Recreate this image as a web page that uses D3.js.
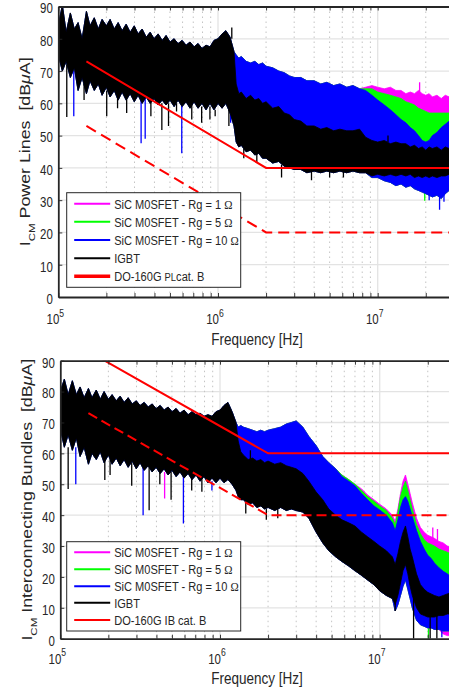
<!DOCTYPE html>
<html>
<head>
<meta charset="utf-8">
<script src="https://cdn.jsdelivr.net/npm/d3@7"></script>
<style>
body { margin: 0; background: #fff; }
svg { display: block; }
text { font-family: "Liberation Sans", Arial, sans-serif; fill: #262626; }
</style>
</head>
<body>
<svg id="chart" width="449" height="689"></svg>
<script>
// ---------- data (dBuA) ----------

// below ~1.3 MHz all four traces lie on top of each other
var freqLow = [1e5,1.06e5,1.12e5,1.19e5,1.26e5,1.33e5,1.41e5,1.5e5,1.58e5,1.68e5,
  1.78e5,1.88e5,2e5,2.11e5,2.24e5,2.37e5,2.51e5,2.66e5,2.82e5,2.99e5,
  3.16e5,3.35e5,3.55e5,3.76e5,3.98e5,4.22e5,4.47e5,4.73e5,5.01e5,5.31e5,
  5.62e5,5.96e5,6.31e5,6.68e5,7.08e5,7.5e5,7.94e5,8.41e5,8.91e5,9.44e5,
  1e6,1.06e6,1.12e6,1.19e6,1.26e6];

// power lines panel
var plLowHi = [84,90.5,82,88,83,85,80,88.5,84,86.5, 83,86,84,86,83,85,82.5,84.5,82,84,
  81.5,83,80.5,82,80,81.5,79.5,81,79,80, 78.5,79.5,78,79,77.5,78.5,77,78,77.5,79.5,
  80,81.5,82.5,80.5,76];
var plLowLo = [75,70,73,68,71,64,68,63,67,64, 66,62.5,65,62,64,61,63.5,61,63,60.5,
  62.5,60,62,60,61.5,59.5,61,59.5,61,59, 61,59,60.5,58.5,60.5,58.5,60,58,60,58,
  60,58.5,60,57,53];

var freqPLHigh = [1.3e6,1.35e6,1.4e6,1.5e6,1.6e6,1.7e6,1.8e6,1.9e6,2e6,2.2e6,
  2.4e6,2.6e6,2.8e6,3e6,3.3e6,3.6e6,4e6,4.4e6,4.8e6,5.3e6,
  5.8e6,6.4e6,7e6,7.7e6,8.4e6,9.2e6,1e7,1.1e7,1.2e7,1.3e7,
  1.4e7,1.5e7,1.6e7,1.7e7,1.8e7,1.9e7,2e7,2.1e7,2.2e7,2.35e7,
  2.5e7,2.65e7,2.8e7,3e7];
var plIgbtHi = [66,63,63.5,61.5,62.5,61,61.5,60,60.5,58.5, 59,57,56.5,55,54.5,53,53,52,52.5,51.5,
  52,51.5,51.5,52,49.5,48.5,48,48.5,47.5,48, 47.5,47.5,46.5,47,46,46.5,45.5,46.5,46,46.5,
  45.5,46.5,46,46];
var plIgbtLo = [48,46.5,47,45,45.5,44,44.5,43,43,41.5, 42,40.5,40,39.5,39.5,38.5,39,38.5,39,38.5,
  39,38.5,39,38.5,38.5,37.5,38,37.5,38,37.5, 38,37.5,38,37,37.5,37,37.5,37,37.5,37,
  37.5,37.5,38,38];
var plRg10Hi = [75,74,74.5,73,72.5,73,72,72.5,71.5,71, 70,69.5,68.5,68,68,67,67,66,66.5,65.5,
  66,65,65.5,64.5,64,62.5,61,59.5,58,56.5, 55,54,52.5,51.5,50,48.5,48,48.5,50,51,
  52.5,53.5,54.5,55.5];
var plRg10Lo = [48,46.5,47,45,45.5,44,44.5,43,43,41.5, 42,40.5,40,39.5,39.5,38.5,39,38.5,39,38.5,
  39,38.5,39,38.5,38.5,37,37,36,35.5,34.5, 35,34,34.5,33.5,33,32.5,32,31.5,31,31.5,
  30.5,32,33,33];
var plRg5Hi = [75,74,74.5,73,72.5,73,72,72.5,71.5,71, 70,69.5,68.5,68,68,67,67,66,66.5,65.5,
  66,65,65.5,64.5,64.5,64.5,63.5,63,62.5,62, 61.5,60.5,60,59.5,58.5,58,57.5,57,57,57,
  57,57,57,57];
var plRg1Hi = [75,74,74.5,73,72.5,73,72,72.5,71.5,71, 70,69.5,68.5,68,68,67,67,66,66.5,65.5,
  66,65,65.5,64.5,65,65.5,65,64.5,65,64, 64,63,63.5,63,64,63,62.5,63,62,62.5,
  61.5,62.5,62,62];

// isolated peaks / dips: [freq, from, to]
var plIgbtSpikes = [[1.13e5,72,55.8],[1.45e5,66,61],[2.01e5,64,56],[2.35e5,62,58.5],[2.68e5,62,57],
  [3.8e5,61,56],[4.45e5,60,51.7],[4.9e5,60,53],[5.5e5,60,57.5],[6.85e5,60,55],[7.9e5,59,54],
  [8.9e5,59,55],[9.6e5,58,56],[1.17e6,58,53],[1.22e6,80,83.5],[1.45e6,46,43],[1.75e6,44.5,41.5],
  [2.5e6,41,37],[3.85e6,39,36.2],[5e6,39,37],[6.1e6,39,37],[1.16e7,48,50]];
var plRg10Spikes = [[1.25e5,70,56],[3.3e5,62,47.6],[3.5e5,62,49],[5.93e5,60,44.5],[1.2e6,58,54],
  [2.1e7,34,30],[2.44e7,33,27],[2.6e7,34,29.5]];
var plRg5Spikes = [[1.97e7,34,29.8]];
var plRg1Spikes = [[1.83e7,63,66.5]];

var plLimitFreq = [1.5e5, 2e6, 3e7];
var plLimitSolid = [73, 40, 40];
var plLimitDashed = [53, 20, 20];

// interconnecting bundles panel
var ibLowHi = [80,84,79,83.5,79,81.5,78,81,78,80.5, 77.5,80,77.5,79,77,78.5,76.5,78,76,77,
  75.5,76.5,75,76,74.5,75.5,74,75,73.5,74.5, 73,74,72.5,73.5,72.5,73,72,72.5,72,73.5,
  74,75.5,76.5,73.5,70];
var ibLowLo = [68,62,66,61,65,59,62,56.5,60,58, 60.5,57,59.5,56.5,58.5,56,58,55.5,57.5,55,
  57,54.5,56,54,55.5,53.5,55,53,54.5,52.5, 54,52,53.5,51.5,53,51,52.5,50.5,52,50.5,
  52,50.5,51.5,50,48];

var freqIBHigh = [1.3e6,1.35e6,1.4e6,1.5e6,1.6e6,1.7e6,1.8e6,1.9e6,2e6,2.2e6,
  2.4e6,2.6e6,2.8e6,3e6,3.3e6,3.6e6,4e6,4.4e6,4.8e6,5.3e6,
  5.8e6,6.4e6,7e6,7.7e6,8.4e6,9.2e6,1e7,1.1e7,1.2e7,1.25e7,
  1.3e7,1.35e7,1.4e7,1.45e7,1.5e7,1.55e7,1.6e7,1.7e7,1.8e7,1.9e7,
  2e7,2.1e7,2.2e7,2.35e7,2.5e7,2.65e7,2.8e7,3e7];
var ibIgbtHi = [64,60.5,59.5,58,58.5,57.5,58,57,57.5,56.5, 57,56,55.5,55,53.5,51,47.5,45,42,40,
  38.5,37.5,36.5,34.5,33,31.5,30,28.5,26.5,24, 27.5,31.5,34.5,36.5,33,29,26.5,21,17.5,16,
  15,14.5,14,13.5,14,14.5,15,15];
var ibIgbtLo = [46,45,45,43.5,44,42.5,43,42,42.5,41.5, 42.5,41.5,42,41.5,41,39,34.5,31,28.5,26.5,
  25,23.5,22,20.5,19,17.5,15.5,14,13,11, 14,18,22,24,21,17,14,10,8,7.5,
  7,7,7,7.5,7.5,8,8,8];
var ibRg10Hi = [68.5,69,68.5,68,67.5,67,67.5,67,67.5,68, 68.5,69.5,70,70.5,68.5,65.5,62.5,59,57,55,
  52.5,51,49.5,47,45,43,41.7,40,37.5,35, 38.5,42.5,45,46,44.5,42,39.5,35,31.5,29,
  27,26,24.5,23,21.8,21,20,19.5];
var ibRg10Lo = [46,45,45,43.5,44,42.5,43,42,42.5,41.5, 42.5,41.5,42,41.5,41,39,34.5,31,28.5,26.5,
  25,23.5,22,20.5,19,17.5,15.5,14,13,9, 11,14,17,19,16,13,10,6,4.5,4,
  3.5,3.5,3,3,2.5,2.5,2.5,2.5];
var ibRg5Hi = [68.5,69,68.5,68,67.5,67,67.5,67,67.5,68, 68.5,69.5,70,70.5,68.5,65.5,62.5,59,57,55,
  53,51.5,50,48,46,44.5,43,41.5,39,37, 41,46,49,51,48,45,42,37,34,32,
  31,30.5,30,29,28.5,28,27.5,27];
var ibRg1Hi = [68.5,69,68.5,68,67.5,67,67.5,67,67.5,68, 68.5,69.5,70,70.5,68.5,65.5,62.5,59,57,55,
  53,51.5,50,48.5,46.5,45,43.5,42,40,38, 42,47,51,53,50,47,44,39,36,34.5,
  33.5,33,32.5,31.5,31,30,29.5,29];
var ibRg1Lo = [46,45,45,43.5,44,42.5,43,42,42.5,41.5, 42.5,41.5,42,41.5,41,39,34.5,31,28.5,26.5,
  25,23.5,22,20.5,19,17.5,15.5,14,13,9, 11,14,17,19,16,13,10,6,4.5,4,
  3.5,3.5,3,3,1.5,1,1,1];

var ibIgbtSpikes = [[1.12e5,62,48.5],[1.9e5,58,51.4],[2.05e5,58,53],[2.8e5,57,49.5],[3.6e5,56,41.6],
  [4.2e5,55,50],[4.94e5,54,45],[6.65e5,53,48],[7.7e5,52,47.6],[1.45e6,44,40.5],[1.55e6,57,61],
  [1.95e6,42,38.5],[2.3e6,42,39],[1.25e7,12,9],[1.63e7,15,0],[2.07e7,8,0],[2.28e7,8,0]];
var ibRg10Spikes = [[1.25e5,62,50],[3.3e5,56,40],[5.9e5,53,37.3],[8.9e5,51,48],[2.45e7,3,0.5]];
var ibRg5Spikes = [[2.02e7,4,0]];
var ibRg1Spikes = [[4.5e5,54,45.4],[2.15e7,32,36],[2.3e7,31,35.5]];

var ibLimitFreq = [1.5e5, 2e6, 3e7];
var ibLimitSolid = [93, 60, 60];
var ibLimitDashed = [73, 40, 40];

var yTicks = d3.range(0, 91, 10);
var decades = [1e5, 1e6, 1e7];
var legendNames = ['SiC M0SFET - Rg = 1 ', 'SiC M0SFET - Rg = 5 ', 'SiC M0SFET - Rg = 10 ', 'IGBT'];

// ---------- drawing ----------
var W = 449;
var SQ = 0.82;   // the figure is squeezed horizontally
var colors = {rg1: '#ff00ff', rg5: '#00ff00', rg10: '#0000ff', igbt: '#000000', limit: '#ff0000'};
var svg = d3.select('#chart');

var panels = [
  {id: 'pl', left: 58.3, top: 6.5, bottom: 297, freq: freqLow.concat(freqPLHigh),
   series: [
     {key: 'rg1', hi: plLowHi.concat(plRg1Hi), lo: plLowLo.concat(plRg10Lo), spikes: plRg1Spikes},
     {key: 'rg5', hi: plLowHi.concat(plRg5Hi), lo: plLowLo.concat(plRg10Lo), spikes: plRg5Spikes},
     {key: 'rg10', hi: plLowHi.concat(plRg10Hi), lo: plLowLo.concat(plRg10Lo), spikes: plRg10Spikes},
     {key: 'igbt', hi: plLowHi.concat(plIgbtHi), lo: plLowLo.concat(plIgbtLo), spikes: plIgbtSpikes}],
   limFreq: plLimitFreq, limSolid: plLimitSolid, limDashed: plLimitDashed, dash: '11,6',
   ylabel: 'Power Lines', ylabX: 30, tickY: 324, xlabY: 344.5,
   legend: {x: 66.7, y: 192.7, w: 174, h: 94.6, rows: [203.7, 221.7, 240, 258.3, 276.3], redW: 3.5, std: 'PL'}},
  {id: 'ib', left: 60.3, top: 360.7, bottom: 638.7, freq: freqLow.concat(freqIBHigh),
   series: [
     {key: 'rg1', hi: ibLowHi.concat(ibRg1Hi), lo: ibLowLo.concat(ibRg1Lo), spikes: ibRg1Spikes},
     {key: 'rg5', hi: ibLowHi.concat(ibRg5Hi), lo: ibLowLo.concat(ibRg10Lo), spikes: ibRg5Spikes},
     {key: 'rg10', hi: ibLowHi.concat(ibRg10Hi), lo: ibLowLo.concat(ibRg10Lo), spikes: ibRg10Spikes},
     {key: 'igbt', hi: ibLowHi.concat(ibIgbtHi), lo: ibLowLo.concat(ibIgbtLo), spikes: ibIgbtSpikes}],
   limFreq: ibLimitFreq, limSolid: ibLimitSolid, limDashed: ibLimitDashed, dash: '10,5',
   ylabel: 'Interconnecting Bundles', ylabX: 32, tickY: 663.5, xlabY: 684,
   legend: {x: 66.7, y: 541.7, w: 174, h: 89.3, rows: [552.3, 569.3, 586.3, 602.7, 620], redW: 2.2, std: 'IB'}}
];

panels.forEach(function(p) {
  var x = d3.scaleLog().domain([1e5, 3e7]).range([p.left, p.left + 159.7 * Math.log10(300)]);
  var y = d3.scaleLinear().domain([0, 90]).range([p.bottom, p.top]);
  var g = svg.append('g').attr('class', 'panel ' + p.id);

  var minors = [];
  decades.forEach(function(d) { d3.range(2, 10).forEach(function(k) { if (d * k <= 3e7) minors.push(d * k); }); });

  // grid
  g.append('g').selectAll('line').data(d3.range(10, 90, 10)).enter().append('line')
    .attr('x1', p.left).attr('x2', W).attr('y1', y).attr('y2', y)
    .attr('stroke', '#e3e3e3').attr('stroke-width', 1.3);
  g.append('g').selectAll('line').data(minors).enter().append('line')
    .attr('x1', x).attr('x2', x).attr('y1', p.top).attr('y2', p.bottom)
    .attr('stroke', '#c4c4c4').attr('stroke-width', 1).attr('stroke-dasharray', '1.5,3.5');
  g.append('g').selectAll('line').data([1e6, 1e7]).enter().append('line')
    .attr('x1', x).attr('x2', x).attr('y1', p.top).attr('y2', p.bottom)
    .attr('stroke', '#e3e3e3').attr('stroke-width', 1.3);

  // data
  var clipId = 'clip-' + p.id;
  svg.append('clipPath').attr('id', clipId).append('rect')
    .attr('x', p.left).attr('y', p.top).attr('width', W - p.left).attr('height', p.bottom - p.top);
  var plot = g.append('g').attr('clip-path', 'url(#' + clipId + ')');

  var area = d3.area().x(function(d) { return x(d[0]); })
    .y0(function(d) { return y(d[2]); }).y1(function(d) { return y(d[1]); });

  p.series.forEach(function(s) {
    plot.append('path').attr('class', 'band ' + s.key)
      .attr('d', area(d3.zip(p.freq, s.hi, s.lo)))
      .attr('fill', colors[s.key]).attr('stroke', colors[s.key]).attr('stroke-width', 0.8)
      .attr('stroke-linejoin', 'round');
    plot.append('g').selectAll('line').data(s.spikes).enter().append('line')
      .attr('x1', function(d) { return x(d[0]); }).attr('x2', function(d) { return x(d[0]); })
      .attr('y1', function(d) { return y(d[1]); }).attr('y2', function(d) { return y(d[2]); })
      .attr('stroke', colors[s.key]).attr('stroke-width', 1.3);
  });

  var lim = d3.line().x(function(d) { return x(d[0]); }).y(function(d) { return y(d[1]); });
  plot.append('path').attr('d', lim(d3.zip(p.limFreq, p.limSolid)))
    .attr('fill', 'none').attr('stroke', colors.limit).attr('stroke-width', 2);
  plot.append('path').attr('d', lim(d3.zip(p.limFreq, p.limDashed)))
    .attr('fill', 'none').attr('stroke', colors.limit).attr('stroke-width', 2)
    .attr('stroke-dasharray', p.dash);

  // axes
  var xt = minors.concat(decades);
  g.append('g').attr('transform', 'translate(0,' + p.bottom + ')')
    .call(d3.axisBottom(x).tickValues(xt).tickFormat('').tickSize(-4).tickSizeOuter(0));
  g.append('g').attr('transform', 'translate(0,' + p.top + ')')
    .call(d3.axisTop(x).tickValues(xt).tickFormat('').tickSize(-4).tickSizeOuter(0));
  var ya = g.append('g').attr('transform', 'translate(' + p.left + ',0)')
    .call(d3.axisLeft(y).tickValues(yTicks).tickSize(-4).tickSizeOuter(0).tickPadding(0));
  g.selectAll('.domain').attr('stroke', '#262626').attr('stroke-width', 1.8);
  g.selectAll('.tick line').attr('stroke', '#262626').attr('stroke-width', 0.9);
  ya.selectAll('.tick text').attr('x', -5.5 / SQ).attr('dy', '0.45em').attr('transform', 'scale(' + SQ + ',1)')
    .attr('font-size', 14).attr('fill', '#262626');
  ya.attr('font-family', null).attr('font-size', null);

  // decade labels 10^n
  decades.forEach(function(d) {
    var tx = x(d) + 1;
    g.append('text').attr('transform', 'translate(' + tx + ',' + p.tickY + ') scale(' + SQ + ',1)')
      .attr('text-anchor', 'end').attr('font-size', 14).text('10');
    g.append('text').attr('transform', 'translate(' + tx + ',' + (p.tickY - 7.5) + ') scale(' + SQ + ',1)')
      .attr('text-anchor', 'start').attr('font-size', 10.5).text(Math.round(Math.log10(d)));
  });

  // axis titles
  g.append('text').attr('transform', 'translate(257,' + p.xlabY + ') scale(' + SQ + ',1)')
    .attr('text-anchor', 'middle').attr('font-size', 16.5).text('Frequency [Hz]');

  var yl = g.append('text')
    .attr('transform', 'translate(' + p.ylabX + ',' + ((p.top + p.bottom) / 2) + ') scale(' + SQ + ',1) rotate(-90)')
    .attr('text-anchor', 'middle').attr('font-size', 17.8);
  yl.append('tspan').text('I');
  yl.append('tspan').attr('font-size', 11.5).attr('dy', 6.5).text('CM');
  yl.append('tspan').attr('dy', -6.5).text('\u00a0' + p.ylabel + '\u00a0\u00a0[dB');
  yl.append('tspan').attr('font-style', 'italic').text('\u03bc');
  yl.append('tspan').text('A]');

  // legend
  var L = p.legend;
  var lg = g.append('g').attr('class', 'legend');
  lg.append('rect').attr('x', L.x).attr('y', L.y).attr('width', L.w).attr('height', L.h)
    .attr('fill', '#fff').attr('stroke', '#262626').attr('stroke-width', 1);
  var keys = ['rg1', 'rg5', 'rg10', 'igbt', 'limit'];
  keys.forEach(function(k, i) {
    var ry = L.rows[i];
    lg.append('line').attr('x1', L.x + 7.5).attr('x2', L.x + 43.5).attr('y1', ry).attr('y2', ry)
      .attr('stroke', colors[k]).attr('stroke-width', k === 'limit' ? L.redW : 2);
    var t = lg.append('text').attr('transform', 'translate(' + (L.x + 47.5) + ',' + (ry + 4.8) + ') scale(' + SQ + ',1)')
      .attr('font-size', 13.5);
    if (i < 3) {
      t.append('tspan').text(legendNames[i]);
      t.append('tspan').attr('font-family', '"Liberation Serif", serif').text('\u03a9');
    } else if (i === 3) {
      t.text(legendNames[3]);
    } else if (L.std === 'PL') {
      t.append('tspan').text('DO-160G\u00a0');
      t.append('tspan').attr('font-size', 11.5).text('PL');
      t.append('tspan').text('cat. B');
    } else {
      t.text('DO-160G IB cat. B');
    }
  });
});
</script>
</body>
</html>
